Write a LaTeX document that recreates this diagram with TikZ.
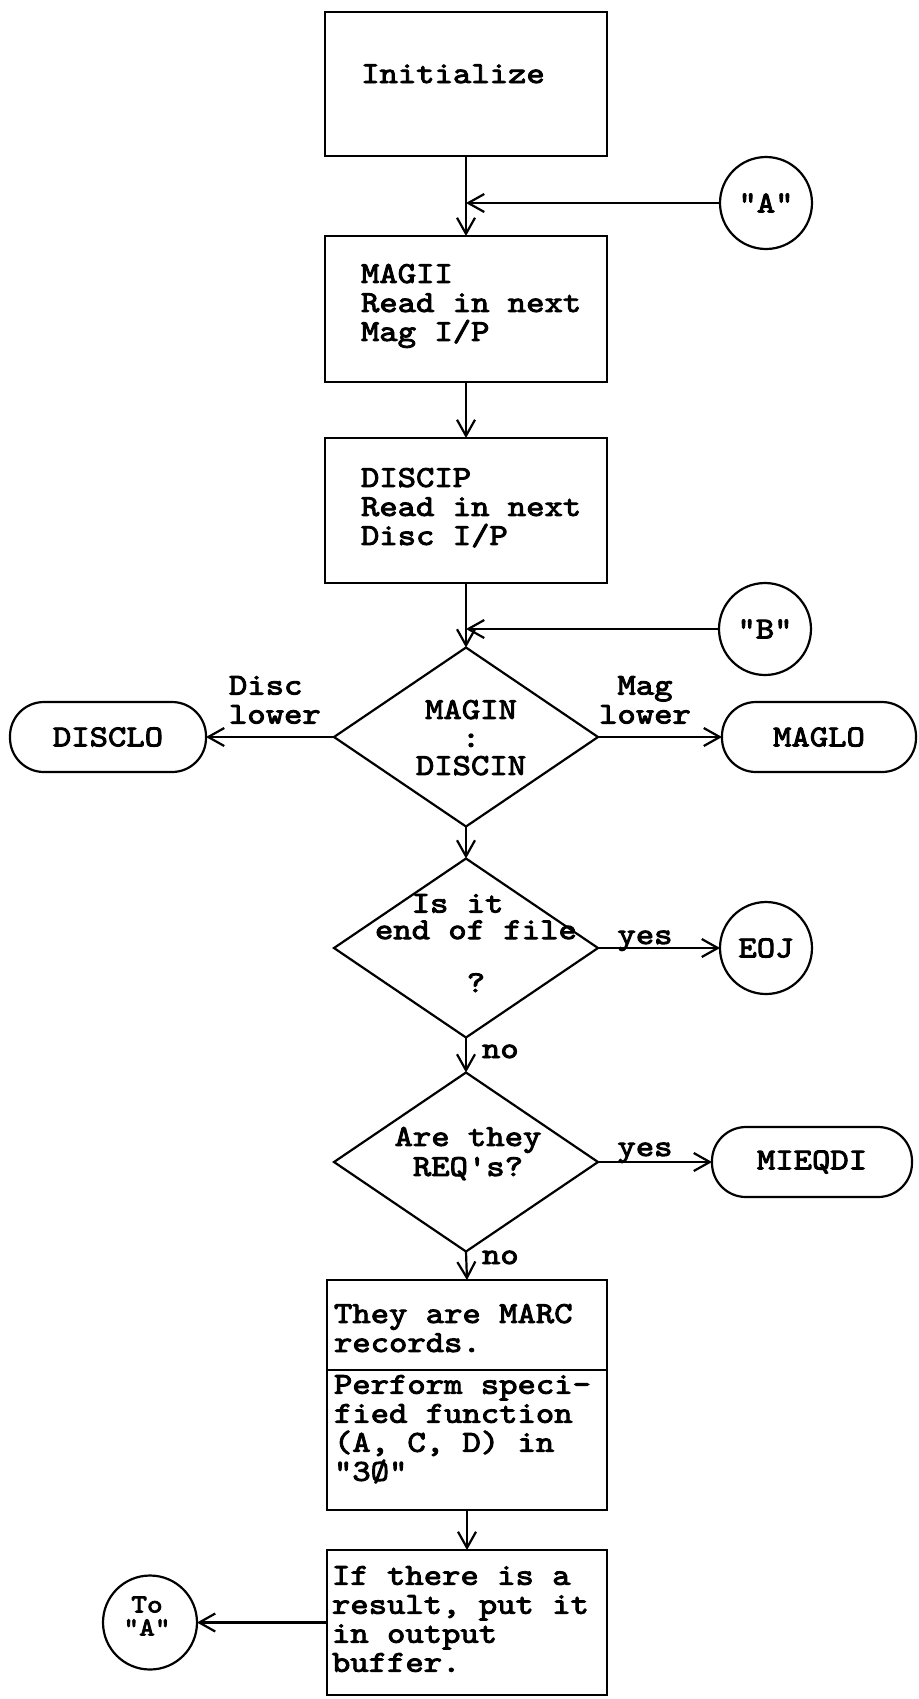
\documentclass[tikz,border=0pt]{standalone}
\usepackage{fontspec}
\newfontfamily\twfont{lmmono10-regular.otf}[FakeBold=3,FakeStretch=1.15]
\usetikzlibrary{shapes.geometric,arrows.meta}
\begin{document}
\begin{tikzpicture}[x=0.5pt,y=-0.5pt,
  lw/.style={line width=1.1pt},
  tw/.style={font=\twfont\fontsize{15.2pt}{14.5pt}\selectfont},
  every node/.style={inner sep=0pt, outer sep=0pt, tw},
  proc/.style={draw, lw, rectangle},
  term/.style={draw, lw, rectangle, rounded corners=17pt, minimum height=35pt},
  conn/.style={draw, lw, circle, minimum size=46pt},
  dec/.style={draw, lw, diamond, minimum width=132pt, minimum height=89.5pt},
  arr/.style={lw, -{Straight Barb[length=8pt,width=9pt]}}]
\useasboundingbox (0,0) rectangle (919,1699);

% boxes
\node[proc, minimum width=141pt, minimum height=72pt] (init) at (466,84) {};
\node[anchor=base] (initt) at (453,83) {Initialize};

\node[conn] (a) at (766,203) {"A"};
\coordinate (ja) at (466,203);

\node[proc, minimum width=141pt, minimum height=73pt] (magii) at (466,309) {};
\node[anchor=north west, align=left] (magiit) at (361,264) {MAGII\\Read in next\\Mag I/P};

\node[proc, minimum width=141pt, minimum height=72.5pt] (discip) at (466,510.5) {};
\node[anchor=north west, align=left] (discipt) at (361,468) {DISCIP\\Read in next\\Disc I/P};

\node[conn] (b) at (765,629) {"B"};
\coordinate (jb) at (466,629);

\node[dec] (d1) at (466,737) {};
\node[anchor=north, align=center, font=\twfont\fontsize{15.2pt}{14pt}\selectfont] (d1t) at (471,700) {MAGIN\\:\\DISCIN};

\node[term, minimum width=98pt] (disclo) at (108,737) {DISCLO};
\node[term, minimum width=97pt] (maglo) at (819,737) {MAGLO};

\node[anchor=north west, align=left] (lbldisc) at (229,676) {Disc\\lower};
\node[anchor=north, align=center] (lblmag) at (645,676) {Mag\\lower};

\node[dec] (d2) at (466,948) {};
\node[anchor=north west, align=left, font=\twfont\fontsize{15.2pt}{13.25pt}\selectfont] (d2t) at (375,894) {\phantom{xx}Is it\\end of file\\[13.25pt]\phantom{xxxxx}?};
\node[conn] (eoj) at (766,948) {EOJ};
\node[anchor=base] (lblyes1) at (645,944) {yes};
\node[anchor=base west] (lblno1) at (482,1058) {no};

\node[dec] (d3) at (466,1162) {};
\node[anchor=north, align=center, font=\twfont\fontsize{15.2pt}{15pt}\selectfont] (d3t) at (468,1127) {Are they\\REQ's?};
\node[term, minimum width=100pt] (mieqdi) at (812,1162) {MIEQDI};
\node[anchor=base] (lblyes2) at (645,1156) {yes};
\node[anchor=base west] (lblno2) at (482,1264) {no};

\node[proc, minimum width=140pt, minimum height=115pt] (marc) at (467,1395) {};
\coordinate (divy) at (0,1370);
\draw[lw] (marc.west |- divy) -- (marc.east |- divy);
\node[anchor=north west, align=left] (marct) at (334,1304) {They are MARC\\records.};
\node[anchor=north west, align=left] (marcb) at (334,1375) {Perform speci-\\fied function\\(A, C, D) in\\"3Ø"};

\node[proc, minimum width=140pt, minimum height=72.5pt] (res) at (467,1622.5) {};
\node[anchor=north west, align=left] (rest) at (332,1566) {If there is a\\result, put it\\in output\\buffer.};

\node[conn, minimum size=47pt] (toa) at (150,1622.5) {};
\node[align=center, font=\twfont\fontsize{13pt}{11.5pt}\selectfont] (toat) at (147,1616) {To\\"A"};

% connectors
\draw[arr] (init.south) -- (magii.north);
\draw[arr] (a.west) -- (ja);
\draw[arr] (magii.south) -- (discip.north);
\draw[arr] (discip.south) -- (d1.north);
\draw[arr] (b.west) -- (jb);
\draw[arr] (d1.west) -- (disclo.east);
\draw[arr] (d1.east) -- (maglo.west);
\draw[arr] (d1.south) -- (d2.north);
\draw[arr] (d2.east) -- (eoj.west);
\draw[arr] (d2.south) -- (d3.north);
\draw[arr] (d3.east) -- (mieqdi.west);
\draw[arr] (d3.south) -- (marc.north);
\draw[arr] (marc.south) -- (res.north);
\draw[arr] (res.west) -- (toa.east);
\end{tikzpicture}
\end{document}
